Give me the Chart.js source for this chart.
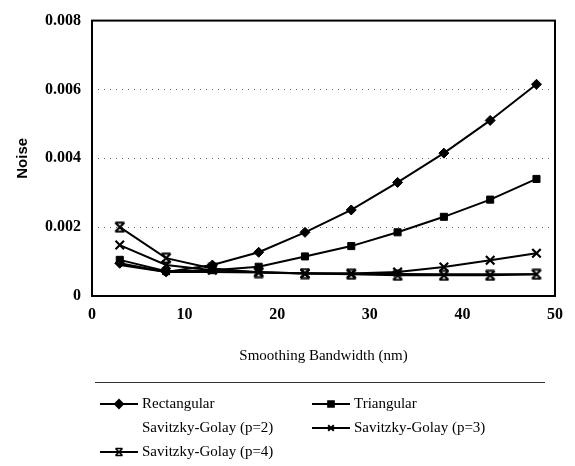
<!DOCTYPE html>
<html>
<head>
<meta charset="utf-8">
<script src="https://cdn.jsdelivr.net/npm/chart.js@4/dist/chart.umd.min.js"></script>
<style>
  html, body { margin: 0; padding: 0; background: #fff; }
  #wrap { width: 575px; height: 466px; position: relative; }
</style>
</head>
<body>
<div id="wrap"><canvas id="chart"></canvas></div>
<script>
// Smoothing bandwidth (nm) and noise per filter
const bandwidth = [3, 8, 13, 18, 23, 28, 33, 38, 43, 48];
const rectangular = [0.00095, 0.0007, 0.0009, 0.00127, 0.00185, 0.0025, 0.0033, 0.00415, 0.0051, 0.00615];
const triangular = [0.00105, 0.00072, 0.00075, 0.00085, 0.00115, 0.00145, 0.00185, 0.0023, 0.0028, 0.0034];
const sgP2 = [0.0009, 0.0007, 0.0007, 0.00068, 0.00066, 0.00065, 0.00064, 0.00063, 0.00063, 0.00063];
const sgP3 = [0.00148, 0.0009, 0.00075, 0.0007, 0.00065, 0.00065, 0.0007, 0.00084, 0.00104, 0.00124];
const sgP4 = [0.002, 0.0011, 0.0008, 0.00068, 0.00065, 0.00063, 0.0006, 0.0006, 0.0006, 0.00063];
const yTicks = [0, 0.002, 0.004, 0.006, 0.008];
const xTicks = [0, 10, 20, 30, 40, 50];

const SERIF = '"Liberation Serif", "DejaVu Serif", serif';
const SANS = '"Liberation Sans", Arial, sans-serif';

// X with bars top and bottom, used for p=4
function makeBarCross(size, lw) {
  const c = document.createElement('canvas');
  c.width = size; c.height = size;
  const g = c.getContext('2d');
  g.strokeStyle = '#000';
  g.lineWidth = lw;
  const a = 1.5, b = size - 1.5;
  g.beginPath();
  g.moveTo(a, a); g.lineTo(b, b);
  g.moveTo(b, a); g.lineTo(a, b);
  g.moveTo(a, a); g.lineTo(b, a);
  g.moveTo(a, b); g.lineTo(b, b);
  g.stroke();
  return c;
}
const barCross = makeBarCross(12, 2.2);
const barCrossSmall = makeBarCross(10, 1.6);

function pts(vals) {
  return vals.map((v, i) => ({ x: bandwidth[i], y: v }));
}

function series(label, vals, style, radius, legendStyle) {
  return {
    label,
    data: pts(vals),
    borderColor: '#000',
    backgroundColor: '#000',
    borderWidth: 2,
    pointStyle: style,
    pointRadius: radius,
    pointBorderWidth: style === 'crossRot' ? 2.2 : 1,
    pointHoverRadius: radius,
    legendStyle
  };
}

const datasets = [
  series('Rectangular', rectangular, 'rectRot', 5, 'rectRot'),
  series('Triangular', triangular, 'rect', 5, 'rect'),
  series('Savitzky-Golay (p=2)', sgP2, 'circle', 0, null),
  series('Savitzky-Golay (p=3)', sgP3, 'crossRot', 6, 'crossRot'),
  series('Savitzky-Golay (p=4)', sgP4, barCross, 6, barCrossSmall)
];

// Frame around plot + legend block below the x axis title
const framePlugin = {
  id: 'frame',
  afterDraw(chart) {
    const ctx = chart.ctx;
    const a = chart.chartArea;
    ctx.save();
    ctx.strokeStyle = '#000';
    ctx.lineWidth = 2;
    ctx.strokeRect(a.left, a.top, a.right - a.left, a.bottom - a.top);

    // separator line
    ctx.lineWidth = 1;
    ctx.strokeStyle = '#333';
    ctx.beginPath();
    ctx.moveTo(95, 382.5);
    ctx.lineTo(545, 382.5);
    ctx.stroke();

    const slots = [
      { x: 100, y: 404 }, { x: 312, y: 404 },
      { x: 100, y: 428 }, { x: 312, y: 428 },
      { x: 100, y: 452 }
    ];
    ctx.font = '15px ' + SERIF;
    ctx.textBaseline = 'middle';
    ctx.fillStyle = '#000';
    chart.data.datasets.forEach((ds, i) => {
      const s = slots[i];
      if (ds.legendStyle) {
        ctx.strokeStyle = '#000';
        ctx.lineWidth = 2;
        ctx.beginPath();
        ctx.moveTo(s.x, s.y);
        ctx.lineTo(s.x + 38, s.y);
        ctx.stroke();
        Chart.helpers.drawPoint(ctx, {
          pointStyle: ds.legendStyle,
          radius: 4,
          rotation: 0,
          borderWidth: ds.legendStyle === 'crossRot' ? 1.8 : 1
        }, s.x + 19, s.y);
      }
      ctx.fillStyle = '#000';
      ctx.fillText(ds.label, s.x + 42, s.y);
    });
    ctx.restore();
  }
};

new Chart(document.getElementById('chart'), {
  type: 'line',
  data: { datasets },
  options: {
    responsive: true,
    maintainAspectRatio: false,
    animation: false,
    layout: { padding: { top: 19, right: 20, bottom: 95, left: 0 } },
    plugins: {
      legend: { display: false },
      tooltip: { enabled: false }
    },
    scales: {
      x: {
        type: 'linear',
        min: 0,
        max: 50,
        afterBuildTicks: (scale) => { scale.ticks = xTicks.map(v => ({ value: v })); },
        afterFit: (scale) => { scale.height = 75; },
        grid: { display: false, drawTicks: false },
        border: { display: false },
        ticks: {
          padding: 9,
          color: '#000',
          font: { family: SERIF, size: 16, weight: 'bold' }
        },
        title: {
          display: true,
          text: 'Smoothing Bandwidth (nm)',
          color: '#000',
          padding: { top: 0, bottom: 6 },
          font: { family: SERIF, size: 15 }
        }
      },
      y: {
        min: 0,
        max: 0.008,
        afterBuildTicks: (scale) => { scale.ticks = yTicks.map(v => ({ value: v })); },
        afterFit: (scale) => { scale.width = 92; },
        grid: {
          color: (c) => (c.tick.value > 0 && c.tick.value < 0.008) ? '#666' : 'rgba(0,0,0,0)',
          lineWidth: 1,
          drawTicks: false
        },
        border: { display: false, dash: [1, 5] },
        ticks: {
          padding: 11,
          color: '#000',
          font: { family: SERIF, size: 16, weight: 'bold' },
          callback: (v) => v === 0 ? '0' : v.toFixed(3)
        },
        title: {
          display: true,
          text: 'Noise',
          color: '#000',
          padding: { top: 14, bottom: 0 },
          font: { family: SANS, size: 15, weight: 'bold' }
        }
      }
    }
  },
  plugins: [framePlugin]
});
</script>
</body>
</html>
